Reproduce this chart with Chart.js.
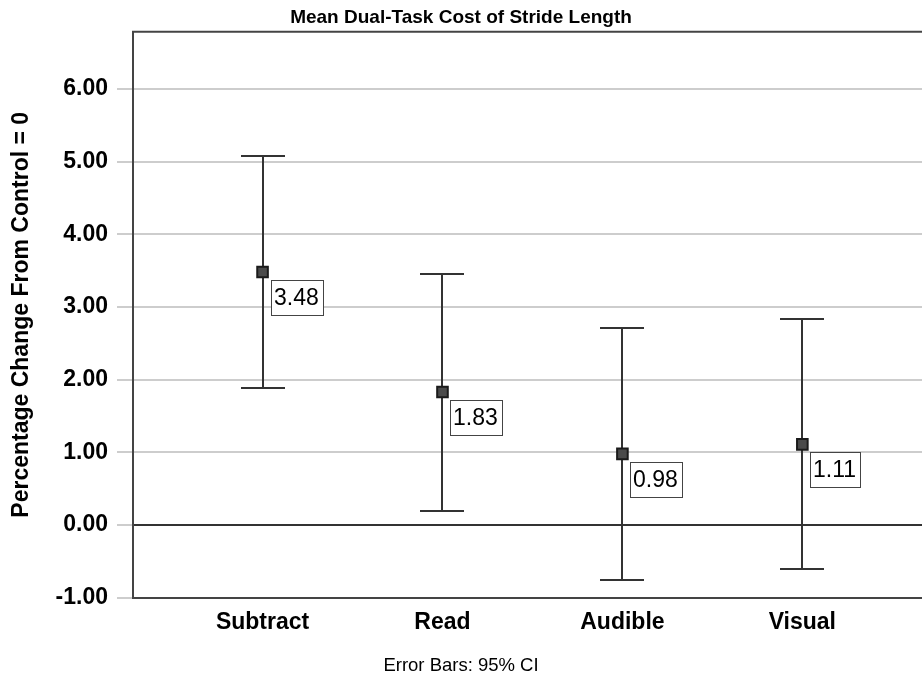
<!DOCTYPE html>
<html>
<head>
<meta charset="utf-8">
<title>Mean Dual-Task Cost of Stride Length</title>
<script src="https://cdn.jsdelivr.net/npm/chart.js@4/dist/chart.umd.min.js"></script>
<style>
  html, body { margin: 0; padding: 0; background: #fff; }
  canvas { display: block; }
</style>
</head>
<body>
<canvas id="strideChart" width="922" height="677"></canvas>
<script>
// Mean dual-task cost per condition, with 95% CI bounds
const categories = ['Subtract', 'Read', 'Audible', 'Visual'];
const means = [3.48, 1.83, 0.98, 1.11];
const ciLower = [1.88, 0.20, -0.75, -0.61];
const ciUpper = [5.08, 3.45, 2.71, 2.83];
const yTicks = [-1, 0, 1, 2, 3, 4, 5, 6];

const FONT = "'Liberation Sans', Arial, sans-serif";
const INK = '#333333';
const FRAME = '#444444';
const GRID = '#cdcdcd';

// Vertical CI whiskers with caps, drawn under the mean markers
const errorBars = {
  id: 'errorBars',
  beforeDatasetsDraw(chart) {
    const { ctx, scales: { x, y } } = chart;
    const cap = 22;
    ctx.save();
    ctx.strokeStyle = INK;
    ctx.lineWidth = 2;
    categories.forEach((c, i) => {
      const px = Math.round(x.getPixelForValue(i + 1));
      const top = Math.round(y.getPixelForValue(ciUpper[i]));
      const bot = Math.round(y.getPixelForValue(ciLower[i]));
      ctx.beginPath();
      ctx.moveTo(px, top);
      ctx.lineTo(px, bot);
      ctx.moveTo(px - cap, top);
      ctx.lineTo(px + cap, top);
      ctx.moveTo(px - cap, bot);
      ctx.lineTo(px + cap, bot);
      ctx.stroke();
    });
    ctx.restore();
  }
};

// Boxed value labels below-right of each mean
const valueLabels = {
  id: 'valueLabels',
  afterDatasetsDraw(chart) {
    const { ctx } = chart;
    const meta = chart.getDatasetMeta(0);
    ctx.save();
    ctx.font = '23px ' + FONT;
    ctx.textBaseline = 'middle';
    ctx.textAlign = 'left';
    meta.data.forEach((pt, i) => {
      const text = means[i].toFixed(2);
      const w = Math.round(ctx.measureText(text).width) + 8;
      const h = 36;
      const bx = Math.round(pt.x) + 8;
      const by = Math.round(pt.y) + 8;
      ctx.fillStyle = '#fff';
      ctx.fillRect(bx, by, w, h);
      ctx.strokeStyle = FRAME;
      ctx.lineWidth = 1;
      ctx.strokeRect(bx + 0.5, by + 0.5, w - 1, h - 1);
      ctx.fillStyle = '#000';
      ctx.fillText(text, bx + 3, by + h / 2 + 1);
    });
    ctx.restore();
  }
};

// Top edge of the plot frame
const topFrame = {
  id: 'topFrame',
  afterDraw(chart) {
    const { ctx, chartArea: a } = chart;
    ctx.save();
    ctx.strokeStyle = FRAME;
    ctx.lineWidth = 2;
    ctx.beginPath();
    ctx.moveTo(a.left - 1, a.top);
    ctx.lineTo(a.right, a.top);
    ctx.stroke();
    ctx.restore();
  }
};

new Chart(document.getElementById('strideChart'), {
  type: 'scatter',
  data: {
    datasets: [{
      label: 'Mean',
      data: categories.map((c, i) => ({ x: i + 1, y: means[i] })),
      pointStyle: 'rect',
      pointRadius: 7.5,
      pointHoverRadius: 7.5,
      backgroundColor: '#4a4a4a',
      borderColor: '#1a1a1a',
      borderWidth: 2
    }]
  },
  options: {
    responsive: false,
    animation: false,
    layout: { padding: 0, autoPadding: false },
    plugins: {
      legend: { display: false },
      tooltip: { enabled: false },
      title: {
        display: true,
        text: 'Mean Dual-Task Cost of Stride Length',
        color: '#000',
        font: { family: FONT, size: 19, weight: 'bold' },
        padding: { top: 6, bottom: 3 }
      },
      subtitle: {
        display: true,
        position: 'bottom',
        text: 'Error Bars: 95% CI',
        color: '#000',
        font: { family: FONT, size: 18.5 },
        padding: 0
      }
    },
    scales: {
      x: {
        type: 'linear',
        min: 0.28,
        max: 4.665,
        afterBuildTicks(scale) {
          scale.ticks = categories.map((c, i) => ({ value: i + 1 }));
        },
        afterFit(scale) {
          scale.height = 57;
          scale.paddingLeft = 0;
          scale.paddingRight = 0;
        },
        ticks: {
          color: '#000',
          padding: 11,
          font: { family: FONT, size: 23, weight: 'bold' },
          callback: (v) => categories[v - 1]
        },
        grid: { display: true, drawOnChartArea: false, drawTicks: false },
        border: { display: true, color: FRAME, width: 2 }
      },
      y: {
        min: -1,
        max: 6.784,
        afterBuildTicks(scale) {
          scale.ticks = yTicks.map(v => ({ value: v }));
        },
        afterFit(scale) { scale.width = 133; },
        ticks: {
          color: '#000',
          padding: 9,
          font: { family: FONT, size: 23, weight: 'bold' },
          callback: (v) => v.toFixed(2)
        },
        grid: {
          color: (ctx) => (ctx.tick && ctx.tick.value === 0 ? INK : GRID),
          tickColor: GRID,
          lineWidth: 2,
          tickLength: 16
        },
        border: { display: true, color: FRAME, width: 2 },
        title: {
          display: true,
          text: 'Percentage Change From Control = 0',
          color: '#000',
          font: { family: FONT, size: 23, weight: 'bold' },
          padding: { top: 8, bottom: 20 }
        }
      }
    }
  },
  plugins: [errorBars, valueLabels, topFrame]
});
</script>
</body>
</html>
